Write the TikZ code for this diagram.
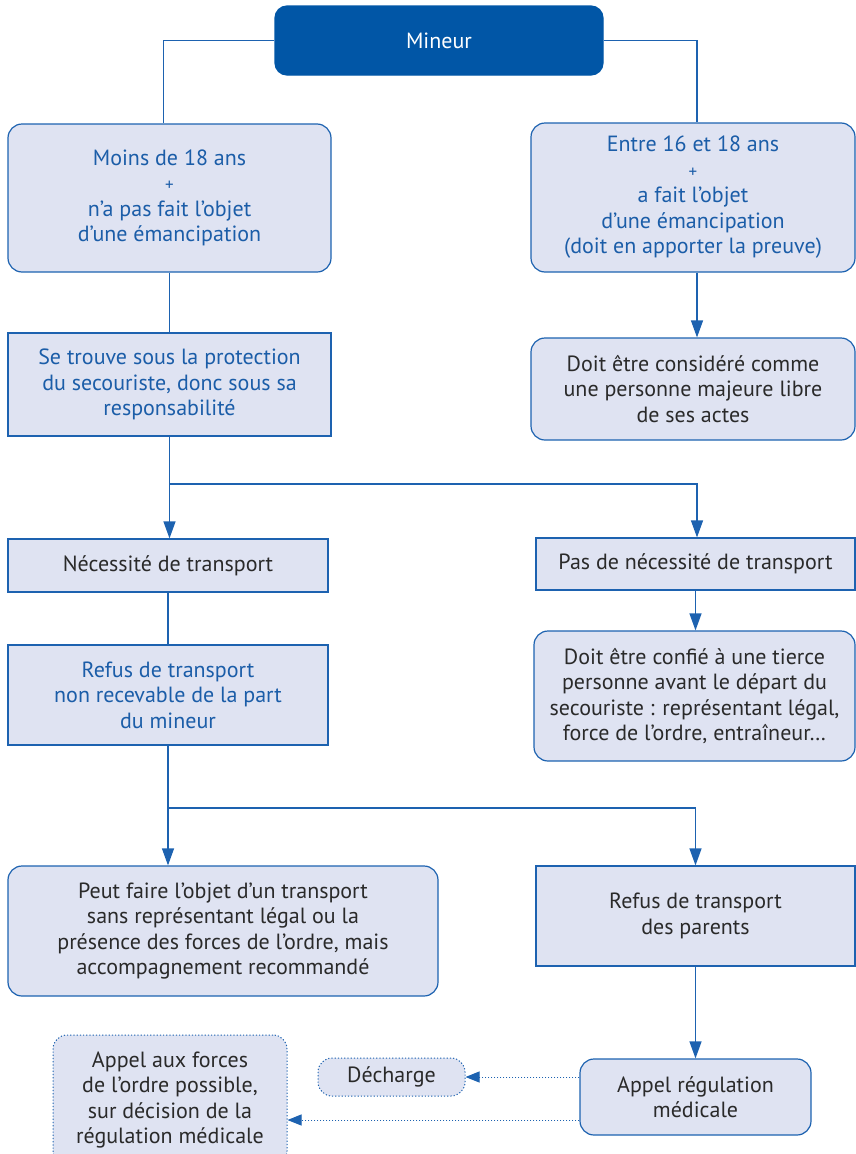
\documentclass[tikz,border=0pt]{standalone}
\usepackage{fontspec}
\setmainfont{PT Sans}
\usepackage{xcolor}
\usetikzlibrary{arrows.meta, positioning}
\definecolor{navy}{HTML}{0156A6}
\definecolor{edge}{HTML}{1D62B0}
\definecolor{softblue}{HTML}{DFE3F2}
\definecolor{bluetext}{HTML}{1B5DA8}
\definecolor{ink}{HTML}{2A2A2A}
\tikzset{
  box/.style={
    rectangle, draw=edge, fill=softblue, line width=1.2pt,
    align=center, text=ink, inner sep=4pt,
    font=\fontsize{22}{25.5}\selectfont
  },
  roundbox/.style={box, rounded corners=14pt},
  bluebox/.style={box, text=bluetext},
  roundbluebox/.style={roundbox, text=bluetext},
  darkbox/.style={box, rounded corners=12pt, fill=navy, draw=navy, text=white},
  dotbox/.style={roundbox, dotted, line width=1pt},
  link/.style={line width=1.2pt, draw=edge},
  arrow/.style={-{Triangle[length=17pt,width=12pt]}, line width=1.2pt, draw=edge},
  dotarrow/.style={-{Triangle[length=14pt,width=11pt]}, dotted, line width=1pt, draw=edge},
}
\newcommand{\plus}{{\fontsize{17}{25.5}\selectfont +}}

\begin{document}
\begin{tikzpicture}[x=1pt, y=-1pt]
  \useasboundingbox (0,0) rectangle (856,1154);

  \node[darkbox, minimum width=328pt, minimum height=69pt] (mineur) at (439,40.5) {Mineur};

  \node[roundbluebox, minimum width=323pt, minimum height=148pt] (moins) at (169.5,198)
    {Moins de 18 ans\\ \plus\\ n’a pas fait l’objet\\ d’une émancipation};
  \node[roundbluebox, minimum width=324pt, minimum height=149pt] (entre) at (693,197.5)
    {Entre 16 et 18 ans\\ \plus\\ a fait l’objet\\ d’une émancipation\\ (doit en apporter la preuve)};

  \node[bluebox, minimum width=323pt, minimum height=103pt] (protection) at (169.5,384.5)
    {Se trouve sous la protection\\ du secouriste, donc sous sa\\ responsabilité};
  \node[roundbox, minimum width=324pt, minimum height=102pt] (majeure) at (693,389)
    {Doit être considéré comme\\ une personne majeure libre\\ de ses actes};

  \node[box, minimum width=320pt, minimum height=53pt] (necessite) at (168,565.5)
    {Nécessité de transport};
  \node[box, minimum width=319pt, minimum height=52pt] (pasnec) at (695.5,564)
    {Pas de nécessité de transport};

  \node[bluebox, minimum width=320pt, minimum height=100pt] (refus) at (168,695)
    {Refus de transport\\ non recevable de la part\\ du mineur};
  \node[roundbox, minimum width=321pt, minimum height=130pt] (confie) at (694.5,696)
    {Doit être confié à une tierce\\ personne avant le départ du\\ secouriste : représentant légal,\\ force de l’ordre, entraîneur…};

  \node[roundbox, minimum width=430pt, minimum height=130pt] (peut) at (223,931)
    {Peut faire l’objet d’un transport\\ sans représentant légal ou la\\ présence des forces de l’ordre, mais\\ accompagnement recommandé};
  \node[box, minimum width=319pt, minimum height=100pt] (parents) at (695.5,916)
    {Refus de transport\\ des parents};

  \node[roundbox, minimum width=231pt, minimum height=76pt] (appel) at (695.5,1097)
    {Appel régulation\\ médicale};
  \node[dotbox, minimum width=147pt, minimum height=38pt] (decharge) at (391.5,1077)
    {Décharge};
  \node[dotbox, minimum width=234pt, minimum height=130pt] (forces) at (170,1100)
    {Appel aux forces\\ de l’ordre possible,\\ sur décision de la\\ régulation médicale};

  % branches from the top box
  \draw[link] (mineur.west) -| ([xshift=-6pt]moins.north);
  \draw[link] (mineur.east) -| ([xshift=4pt]entre.north);
  \draw[link] (moins.south) -- (moins.south |- protection.north);
  \draw[arrow] ([xshift=4pt]entre.south) -- ([xshift=4pt]majeure.north);

  \coordinate (fork1) at (protection.south |- 0,484);
  \draw[arrow] (protection.south) -- (protection.south |- necessite.north);
  \draw[arrow] (fork1) -| ([xshift=4pt]majeure.south |- pasnec.north);
  \draw[arrow] (pasnec.south) -- (pasnec.south |- confie.north);

  \draw[link] (necessite.south) -- (necessite.south |- refus.north);
  \coordinate (fork2) at (refus.south |- 0,808);
  \draw[arrow] (refus.south) -- (refus.south |- peut.north);
  \draw[arrow] (fork2) -| (parents.north);
  \draw[arrow] (parents.south) -- (appel.north);

  % dotted outcomes
  \draw[dotarrow] (appel.west |- decharge.east) -- (decharge.east);
  \draw[dotarrow] ([yshift=-23pt]appel.west) coordinate (low) -- (low -| forces.east);
\end{tikzpicture}
\end{document}
